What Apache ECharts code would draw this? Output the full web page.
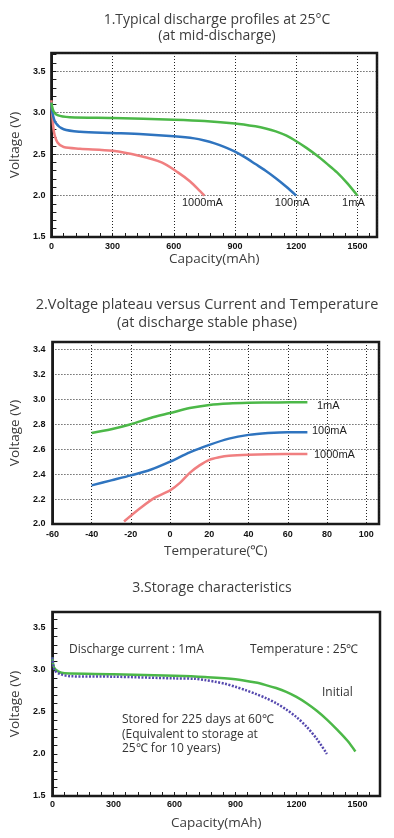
<!DOCTYPE html>
<html><head><meta charset="utf-8">
<script src="https://cdn.jsdelivr.net/npm/echarts@6/dist/echarts.min.js"></script>
<style>html,body{margin:0;padding:0;background:#fff}#c{width:394px;height:838px}</style>
</head><body><div id="c"></div>
<script>
// ---- Chart 1: Typical discharge profiles at 25°C (capacity mAh, voltage V)
const dis1mA = [[0,3.12],[10,3.02],[30,2.97],[90,2.945],[300,2.935],[600,2.915],[750,2.90],[900,2.87],[1000,2.835],[1050,2.81],[1100,2.775],[1150,2.725],[1200,2.655],[1250,2.575],[1300,2.485],[1350,2.385],[1400,2.28],[1450,2.15],[1500,2.0]];
const dis100mA = [[0,3.12],[5,3.0],[20,2.88],[60,2.80],[140,2.77],[300,2.755],[450,2.74],[600,2.715],[700,2.69],[750,2.665],[800,2.63],[850,2.585],[900,2.53],[950,2.46],[1000,2.38],[1050,2.30],[1100,2.21],[1150,2.11],[1200,2.0]];
const dis1000mA = [[0,3.15],[5,2.95],[13,2.76],[30,2.64],[60,2.585],[140,2.565],[300,2.54],[430,2.48],[540,2.40],[620,2.28],[680,2.17],[730,2.05],[750,2.0]];
const dischargeLabels = ['1mA','100mA','1000mA'];

// ---- Chart 2: Voltage plateau vs temperature (°C, V)
const plat1mA = [[-40,2.73],[-30,2.76],[-20,2.80],[-10,2.85],[0,2.89],[10,2.93],[20,2.955],[30,2.967],[40,2.972],[55,2.975],[70,2.977]];
const plat100mA = [[-40,2.31],[-30,2.35],[-20,2.39],[-10,2.435],[0,2.50],[10,2.575],[20,2.635],[30,2.685],[40,2.715],[50,2.73],[60,2.737],[70,2.737]];
const plat1000mA = [[-23.5,2.02],[-15,2.13],[-8,2.21],[0,2.27],[5,2.33],[10,2.41],[15,2.47],[20,2.515],[25,2.535],[30,2.547],[40,2.556],[50,2.56],[70,2.562]];

// ---- Chart 3: Storage characteristics (capacity mAh, V)
const storInitial = [[0,3.15],[8,3.03],[30,2.98],[60,2.96],[300,2.95],[600,2.93],[750,2.915],[900,2.89],[1000,2.85],[1050,2.82],[1100,2.785],[1150,2.74],[1200,2.68],[1250,2.605],[1300,2.515],[1350,2.41],[1400,2.29],[1450,2.16],[1490,2.03]];
const storStored = [[0,3.15],[10,3.0],[40,2.95],[90,2.925],[300,2.92],[600,2.90],[700,2.895],[750,2.88],[800,2.86],[850,2.835],[900,2.80],[950,2.76],[1000,2.715],[1050,2.665],[1100,2.605],[1150,2.53],[1200,2.44],[1250,2.325],[1300,2.18],[1350,2.0]];

const GREEN = '#4cb848', BLUE = '#2f74bf', RED = '#f07f80', PURPLE = '#5548ae';
const TICKFONT = {fontFamily:'Liberation Sans Narrow, Liberation Sans, Arial', fontWeight:'bold', fontSize:9, color:'#111'};
const NAMEFONT = {fontFamily:'Open Sans, Lato, sans-serif', fontSize:13.5, color:'#3c3c3c'};
const TXT = 'Open Sans, Lato, sans-serif';

function multLabel(step, dec) {
  return function (v) {
    const k = v / step;
    return Math.abs(k - Math.round(k)) < 1e-6 ? v.toFixed(dec) : '';
  };
}
const dotted = {type:[1,2], color:'#222', width:1};
const axisLine = {show:true, onZero:false, lineStyle:{color:'#1a1a1a', width:2}};
const noAxis = {axisLine:{show:false}, axisTick:{show:false}, axisLabel:{show:false}};

function endMark(pt, text, pos, dist, off) {
  return {
    symbol:'circle', symbolSize:1, itemStyle:{color:'transparent'},
    label:{show:true, position:pos, distance:dist, offset:off, formatter:text,
      fontFamily:'Liberation Sans, Arial', fontSize:11, color:'#1e1e1e'},
    data:[{coord:pt}]
  };
}
function line(name, data, color, xi, yi, extra) {
  return Object.assign({
    name, type:'line', data, xAxisIndex:xi, yAxisIndex:yi, smooth:0.3,
    showSymbol:false, symbol:'none', silent:true, lineStyle:{color, width:2.5}, itemStyle:{color}
  }, extra || {});
}

const last = a => a[a.length - 1];

const option = {
  animation:false,
  backgroundColor:'#fff',
  grid:[
    {left:44, top:53, width:333, height:184, show:true, borderColor:'#1a1a1a', borderWidth:2.5},
    {left:46, top:342, width:333, height:182, show:true, borderColor:'#1a1a1a', borderWidth:2.5},
    {left:47, top:612, width:333, height:184, show:true, borderColor:'#1a1a1a', borderWidth:2.5}
  ],
  xAxis:[
    {gridIndex:0, type:'value', min:0, max:1596, interval:60, axisLine,
      axisTick:{show:true, inside:true, length:4, lineStyle:{color:'#1a1a1a'}},
      axisLabel:Object.assign({margin:5, formatter:multLabel(300,0)}, TICKFONT),
      splitLine:{show:false},
      name:'Capacity(mAh)', nameLocation:'middle', nameGap:15, nameTextStyle:NAMEFONT},
    Object.assign({gridIndex:0, type:'value', min:0, max:1596, interval:300, splitLine:{show:true, lineStyle:dotted}}, noAxis),
    {gridIndex:1, type:'value', min:-60, max:106.5, interval:20, axisLine, axisTick:{show:false},
      axisLabel:Object.assign({margin:6, formatter:multLabel(20,0)}, TICKFONT),
      splitLine:{show:true, lineStyle:dotted},
      name:'Temperature(℃)', nameLocation:'middle', nameGap:20, nameTextStyle:NAMEFONT},
    {gridIndex:2, type:'value', min:0, max:1611, interval:60, axisLine,
      axisTick:{show:true, inside:true, length:4, lineStyle:{color:'#1a1a1a'}},
      axisLabel:Object.assign({margin:4, formatter:multLabel(300,0)}, TICKFONT),
      splitLine:{show:false},
      name:'Capacity(mAh)', nameLocation:'middle', nameGap:20, nameTextStyle:NAMEFONT}
  ],
  yAxis:[
    {gridIndex:0, type:'value', min:1.5, max:3.72, interval:0.1, axisLine,
      axisTick:{show:true, inside:true, length:5, lineStyle:{color:'#1a1a1a'}},
      axisLabel:Object.assign({margin:6, formatter:multLabel(0.5,1)}, TICKFONT),
      splitLine:{show:false},
      name:'Voltage (V)', nameLocation:'middle', nameGap:22, nameRotate:90, nameTextStyle:NAMEFONT},
    Object.assign({gridIndex:0, type:'value', min:1.5, max:3.72, interval:0.5, splitLine:{show:true, lineStyle:dotted}}, noAxis),
    {gridIndex:1, type:'value', min:2.0, max:3.46, interval:0.2, axisLine, axisTick:{show:false},
      axisLabel:Object.assign({margin:7, formatter:multLabel(0.2,1)}, TICKFONT),
      splitLine:{show:true, lineStyle:dotted},
      name:'Voltage (V)', nameLocation:'middle', nameGap:22, nameRotate:90, nameTextStyle:NAMEFONT},
    {gridIndex:2, type:'value', min:1.5, max:3.69, interval:0.1, axisLine,
      axisTick:{show:true, inside:true, length:5, lineStyle:{color:'#1a1a1a'}},
      axisLabel:Object.assign({margin:7, formatter:multLabel(0.5,1)}, TICKFONT),
      splitLine:{show:false},
      name:'Voltage (V)', nameLocation:'middle', nameGap:23, nameRotate:90, nameTextStyle:NAMEFONT}
  ],
  series:[
    line('1000mA', dis1000mA, RED, 0, 0, {markPoint:endMark(last(dis1000mA), dischargeLabels[2], 'bottom', 1, [-2,0])}),
    line('100mA', dis100mA, BLUE, 0, 0, {markPoint:endMark(last(dis100mA), dischargeLabels[1], 'bottom', 1, [-4,0])}),
    line('1mA', dis1mA, GREEN, 0, 0, {markPoint:endMark(last(dis1mA), dischargeLabels[0], 'bottom', 1, [-4,0])}),

    line('1mA-T', plat1mA, GREEN, 2, 2, {markPoint:endMark(last(plat1mA), dischargeLabels[0], 'right', 9, [0,4])}),
    line('100mA-T', plat100mA, BLUE, 2, 2, {markPoint:endMark(last(plat100mA), dischargeLabels[1], 'right', 4, [0,-1])}),
    line('1000mA-T', plat1000mA, RED, 2, 2, {markPoint:endMark(last(plat1000mA), dischargeLabels[2], 'right', 6, [0,1])}),

    line('Initial', storInitial, GREEN, 3, 3),
    line('Stored', storStored, PURPLE, 3, 3, {lineStyle:{color:PURPLE, width:2.5, type:[2,1.5]}})
  ],
  graphic:[
    {type:'text', x:217, y:20, style:{text:'1.Typical discharge profiles at 25°C', font:'14px '+TXT, fill:'#3c3c3c', align:'center', verticalAlign:'middle'}},
    {type:'text', x:217, y:36, style:{text:'(at mid-discharge)', font:'14px '+TXT, fill:'#3c3c3c', align:'center', verticalAlign:'middle'}},
    {type:'text', x:207, y:305, style:{text:'2.Voltage plateau versus Current and Temperature', font:'14.5px '+TXT, fill:'#3c3c3c', align:'center', verticalAlign:'middle'}},
    {type:'text', x:207, y:323, style:{text:'(at discharge stable phase)', font:'14.5px '+TXT, fill:'#3c3c3c', align:'center', verticalAlign:'middle'}},
    {type:'text', x:212, y:588, style:{text:'3.Storage characteristics', font:'14px '+TXT, fill:'#3c3c3c', align:'center', verticalAlign:'middle'}},
    {type:'text', x:69, y:650, style:{text:'Discharge current : 1mA', font:'12px '+TXT, fill:'#333', align:'left', verticalAlign:'middle'}},
    {type:'text', x:250, y:650, style:{text:'Temperature : 25℃', font:'12px '+TXT, fill:'#333', align:'left', verticalAlign:'middle'}},
    {type:'text', x:322, y:693, style:{text:'Initial', font:'12px '+TXT, fill:'#333', align:'left', verticalAlign:'middle'}},
    {type:'text', x:122, y:720, style:{text:'Stored for 225 days at 60℃', font:'12px '+TXT, fill:'#333', align:'left', verticalAlign:'middle'}},
    {type:'text', x:122, y:734.5, style:{text:'(Equivalent to storage at', font:'12px '+TXT, fill:'#333', align:'left', verticalAlign:'middle'}},
    {type:'text', x:122, y:749, style:{text:'25℃ for 10 years)', font:'12px '+TXT, fill:'#333', align:'left', verticalAlign:'middle'}}
  ]
};
const chart = echarts.init(document.getElementById('c'), null, {renderer:'canvas'});
chart.setOption(option);
</script>
</body></html>
